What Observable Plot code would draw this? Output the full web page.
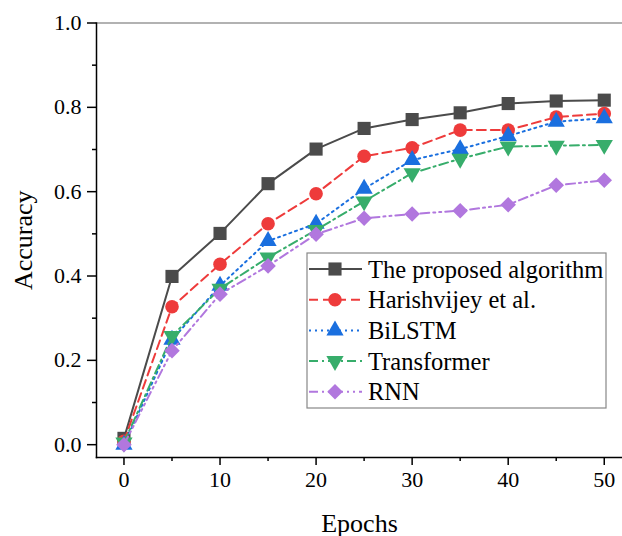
<!DOCTYPE html>
<html><head><meta charset="utf-8">
<script src="https://cdn.jsdelivr.net/npm/d3@7"></script>
<script src="https://cdn.jsdelivr.net/npm/@observablehq/plot@0.6"></script>
<style>
body{margin:0;background:#fff}
#chart{position:relative;width:622px;height:536px}
#chart svg, #chart svg text{font-family:'Liberation Serif','Times New Roman',serif !important}
</style>
</head><body><div id="chart"></div>
<script>
// ---- data ----
const epochs = [0, 5, 10, 15, 20, 25, 30, 35, 40, 45, 50];
const seriesNames = ["The proposed algorithm", "Harishvijey et al.", "BiLSTM", "Transformer", "RNN"];
const proposed    = [0.015, 0.399, 0.501, 0.619, 0.701, 0.750, 0.771, 0.787, 0.809, 0.815, 0.817];
const harishvijey = [0.008, 0.327, 0.428, 0.524, 0.595, 0.684, 0.704, 0.746, 0.746, 0.777, 0.785];
const bilstm      = [0.000, 0.249, 0.377, 0.483, 0.524, 0.607, 0.675, 0.701, 0.732, 0.766, 0.774];
const transformer = [0.005, 0.258, 0.370, 0.444, 0.509, 0.577, 0.644, 0.678, 0.707, 0.709, 0.711];
const rnn         = [0.000, 0.223, 0.357, 0.424, 0.499, 0.537, 0.547, 0.555, 0.569, 0.615, 0.627];
const seriesValues = [proposed, harishvijey, bilstm, transformer, rnn];
const xTicks = [0, 10, 20, 30, 40, 50];
const xMinorTicks = [5, 15, 25, 35, 45];
const yTicks = [0, 0.2, 0.4, 0.6, 0.8, 1.0];
const yMinorTicks = [0.1, 0.3, 0.5, 0.7, 0.9];
const xLabel = "Epochs";
const yLabel = "Accuracy";

// ---- styles ----
const colors = ["#4b4b4b", "#ee3b3b", "#1a6fdf", "#37ad6b", "#b177de"];
const dashes = [null, "9,5", "2,4", "9,4,2,4", "9,4,2,4,2,4"];
const symbols = ["square", "circle", "triangle", "triangle", "square"];
const rotations = [0, 0, 0, 180, 45];
const radii = [7.4, 6.8, 6.4, 6.4, 6.2];
const FONT = "'Liberation Serif', 'Times New Roman', serif";

const rows = seriesNames.flatMap((name, i) =>
  epochs.map((e, j) => ({series: name, idx: i, epoch: e, acc: seriesValues[i][j]})));

const seriesMarks = seriesNames.flatMap((name, i) => {
  const d = rows.filter(r => r.idx === i);
  return [
    Plot.line(d, {x: "epoch", y: "acc", stroke: colors[i], strokeWidth: 2, strokeDasharray: dashes[i] || undefined}),
    Plot.dot(d, {x: "epoch", y: "acc", fill: colors[i], stroke: "none", symbol: symbols[i], rotate: rotations[i], r: radii[i]})
  ];
});

const plot = Plot.plot({
  width: 622,
  height: 536,
  marginLeft: 96,
  marginRight: 0,
  marginTop: 22.5,
  marginBottom: 79,
  style: {fontFamily: FONT, fontSize: "22px", color: "#000", background: "#fff"},
  x: {domain: [-2.86, 51.9], label: null},
  y: {domain: [-0.0304, 1.0], label: null},
  marks: [
    Plot.frame({anchor: "top", stroke: "#999", strokeWidth: 1.5}),
    Plot.axisX({ticks: xMinorTicks, tickSize: 4, tickFormat: () => "", label: null, strokeWidth: 1.5}),
    Plot.axisX({ticks: xTicks, tickSize: 8, tickPadding: 6, tickFormat: d => String(d), label: null, strokeWidth: 1.5, fontSize: 22, fontFamily: FONT}),
    Plot.axisX({ticks: [], label: xLabel, labelAnchor: "center", labelArrow: "none", labelOffset: 74, fontSize: 26, fontFamily: FONT}),
    Plot.axisY({ticks: yMinorTicks, tickSize: 4, tickFormat: () => "", label: null, strokeWidth: 1.5}),
    Plot.axisY({ticks: yTicks, tickSize: 9, tickPadding: 6, tickFormat: d3.format(".1f"), label: null, strokeWidth: 1.5, fontSize: 22, fontFamily: FONT}),
    Plot.axisY({ticks: [], label: yLabel, labelAnchor: "center", labelArrow: "none", labelOffset: 83, fontSize: 26, fontFamily: FONT}),
    Plot.frame({anchor: "left", stroke: "#000", strokeWidth: 1.5}),
    Plot.frame({anchor: "bottom", stroke: "#000", strokeWidth: 1.5}),
    ...seriesMarks
  ]
});
document.getElementById("chart").appendChild(plot);

// ---- legend (inside plot, drawn into the svg) ----
const svg = d3.select(plot);
const lg = svg.append("g").attr("class", "legend").attr("text-anchor", "start");
const boxX = 307, boxY = 253, boxW = 299, boxH = 155, rowH = 30.7, firstRow = 269;
lg.append("rect").attr("x", boxX).attr("y", boxY).attr("width", boxW).attr("height", boxH)
  .attr("fill", "#fff").attr("stroke", "#888").attr("stroke-width", 1.2);
const symMap = {square: d3.symbolSquare, circle: d3.symbolCircle, triangle: d3.symbolTriangle};
seriesNames.forEach((name, i) => {
  const cy = firstRow + i * rowH;
  lg.append("line").attr("x1", boxX + 2).attr("x2", boxX + 55).attr("y1", cy).attr("y2", cy)
    .attr("stroke", colors[i]).attr("stroke-width", 2)
    .attr("stroke-dasharray", dashes[i] || null);
  lg.append("path")
    .attr("d", d3.symbol(symMap[symbols[i]], Math.PI * radii[i] * radii[i])())
    .attr("transform", `translate(${boxX + 28},${cy}) rotate(${rotations[i]})`)
    .attr("fill", colors[i]);
  lg.append("text").attr("x", boxX + 61).attr("y", cy).attr("dy", "0.35em")
    .attr("text-anchor", "start")
    .attr("font-family", FONT).attr("font-size", 24.5).attr("fill", "#000").text(name);
});
</script>
</body></html>
